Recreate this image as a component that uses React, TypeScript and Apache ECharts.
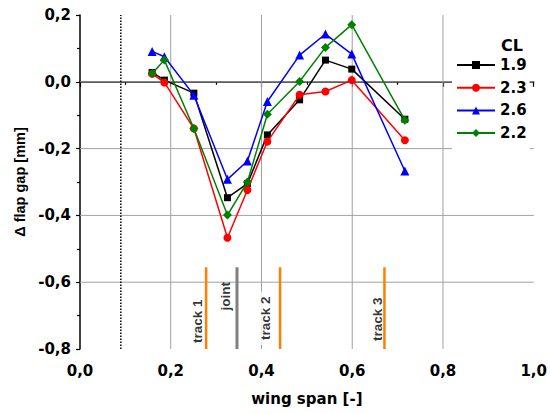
import React, { useEffect, useRef } from "react";
import * as echarts from "echarts";

const spanX = [0.159, 0.186, 0.251, 0.325, 0.369, 0.413, 0.484, 0.541, 0.599, 0.716];
const cl19 = [0.028, 0.005, -0.034, -0.347, -0.305, -0.159, -0.054, 0.065, 0.038, -0.112];
const cl23 = [0.024, -0.002, -0.14, -0.467, -0.324, -0.179, -0.039, -0.029, 0.005, -0.175];
const cl26 = [0.091, 0.075, -0.04, -0.292, -0.237, -0.059, 0.08, 0.143, 0.083, -0.267];
const cl22 = [0.025, 0.065, -0.14, -0.399, -0.3, -0.097, 0.001, 0.103, 0.171, -0.115];

const seriesNames = ["1.9", "2.3", "2.6", "2.2"];
const seriesColors = ["#000000", "#ff0000", "#0000ff", "#008000"];
const seriesSymbols = ["rect", "circle", "triangle", "diamond"];
const seriesSizes = [7, 8, 9, 9];
const seriesValues = [cl19, cl23, cl26, cl22];

const gridX = [0.2, 0.4, 0.6, 0.8];
const gridY = [0.0, -0.2, -0.4, -0.6];
const dottedX = 0.09;
const trackX = [0.278, 0.441, 0.671];
const jointX = 0.346;
const markerTop = -0.555;
const markLabels = ["track 1", "joint", "track 2", "track 3"];
const markLabelX = [0.259, 0.321, 0.409, 0.656];
const markLabelY = [-0.717, -0.642, -0.708, -0.711];

const X_MIN = 0, X_MAX = 1, Y_MIN = -0.8, Y_MAX = 0.2;

const fmt = (v: number) => v.toFixed(1).replace(".", ",");

export default function App() {
  const ref = useRef<HTMLDivElement>(null);
  useEffect(() => {
    if (!ref.current) return;
    const chart = echarts.init(ref.current, null, { renderer: "svg" });
    const tickFont = { fontFamily: "DejaVu Sans", fontWeight: "bold" as const, fontSize: 15, color: "#000" };
    const vline = (x: number, y0: number, y1: number, color: string, width: number, type: string, z: number) => ({
      type: "line",
      data: [[x, y0], [x, y1]],
      symbol: "none",
      silent: true,
      z,
      lineStyle: { color, width, type },
    });
    const hline = (y: number) => ({
      type: "line",
      data: [[X_MIN, y], [X_MAX, y]],
      symbol: "none",
      silent: true,
      z: 1,
      lineStyle: { color: "#a0a0a0", width: 1 },
    });
    const series: any[] = [
      ...gridX.map((x) => vline(x, Y_MIN, Y_MAX, "#a0a0a0", 1, "solid", 1)),
      ...gridY.map((y) => hline(y)),
      vline(dottedX, Y_MIN, Y_MAX, "#000", 1.5, "dotted", 2),
      ...trackX.map((x) => vline(x, Y_MIN, markerTop, "#ff8000", 2.5, "solid", 2)),
      vline(jointX, Y_MIN, markerTop, "#808080", 3, "solid", 2),
      {
        type: "scatter",
        silent: true,
        symbolSize: 0,
        z: 3,
        data: markLabels.map((n, i) => ({
          name: n,
          value: [markLabelX[i], markLabelY[i]],
          label: n === "track 2" ? { backgroundColor: "#fff", padding: [0, 5] } : {},
        })),
        label: {
          show: true,
          position: "inside",
          formatter: "{b}",
          rotate: 90,
          fontFamily: "Liberation Sans, Arial",
          fontWeight: "bold",
          fontSize: 13.5,
          color: "#000",
        },
      },
      ...seriesNames.map((name, i) => ({
        name,
        type: "line",
        data: spanX.map((x, j) => [x, seriesValues[i][j]]),
        symbol: seriesSymbols[i],
        symbolSize: seriesSizes[i],
        z: 5 + i,
        itemStyle: { color: seriesColors[i] },
        lineStyle: { color: seriesColors[i], width: 1.5 },
      })),
    ];
    chart.setOption({
      animation: false,
      grid: { left: 80, right: 16, top: 15, bottom: 65 },
      xAxis: {
        type: "value",
        min: X_MIN,
        max: X_MAX,
        interval: 0.2,
        name: "wing span [-]",
        nameLocation: "middle",
        nameGap: 42,
        nameTextStyle: { ...tickFont },
        axisLine: { lineStyle: { color: "#000", width: 1.5 } },
        axisTick: { show: true, length: 5, lineStyle: { color: "#000", width: 1.2 } },
        minorTick: { show: true, splitNumber: 2, length: 3, lineStyle: { color: "#000", width: 1.2 } },
        splitLine: { show: false },
        axisLabel: { ...tickFont, margin: 14, formatter: (v: number) => fmt(v) },
      },
      yAxis: {
        type: "value",
        min: Y_MIN,
        max: Y_MAX,
        interval: 0.2,
        name: "Δ flap gap [mm]",
        nameLocation: "middle",
        nameGap: 44,
        nameRotate: 90,
        nameTextStyle: { fontFamily: "Liberation Sans, Arial", fontWeight: "bold", fontSize: 14.5, color: "#000" },
        axisLine: { show: true, lineStyle: { color: "#000", width: 1.5 } },
        axisTick: { show: true, length: 4, lineStyle: { color: "#000", width: 1.2 } },
        minorTick: { show: true, splitNumber: 2, length: 3, lineStyle: { color: "#000", width: 1.2 } },
        splitLine: { show: false },
        axisLabel: { ...tickFont, margin: 9, formatter: (v: number) => fmt(v) },
      },
      legend: {
        data: seriesNames,
        orient: "vertical",
        left: 452,
        top: 30,
        backgroundColor: "#fff",
        padding: [26, 3, 8, 4],
        itemWidth: 38,
        itemHeight: 10,
        itemGap: 4.7,
        textStyle: { fontFamily: "DejaVu Sans", fontWeight: "bold", fontSize: 15, lineHeight: 18, color: "#000" },
      },
      graphic: [
        {
          type: "text",
          z: 100,
          x: 512,
          y: 45,
          style: {
            text: "CL",
            fontFamily: "DejaVu Sans",
            fontWeight: "bold",
            fontSize: 16,
            fill: "#000",
            align: "center",
            verticalAlign: "middle",
          },
        },
      ],
      series,
    });
    return () => chart.dispose();
  }, []);
  return <div ref={ref} style={{ width: 550, height: 414, position: "absolute", left: 0, top: 0 }} />;
}
